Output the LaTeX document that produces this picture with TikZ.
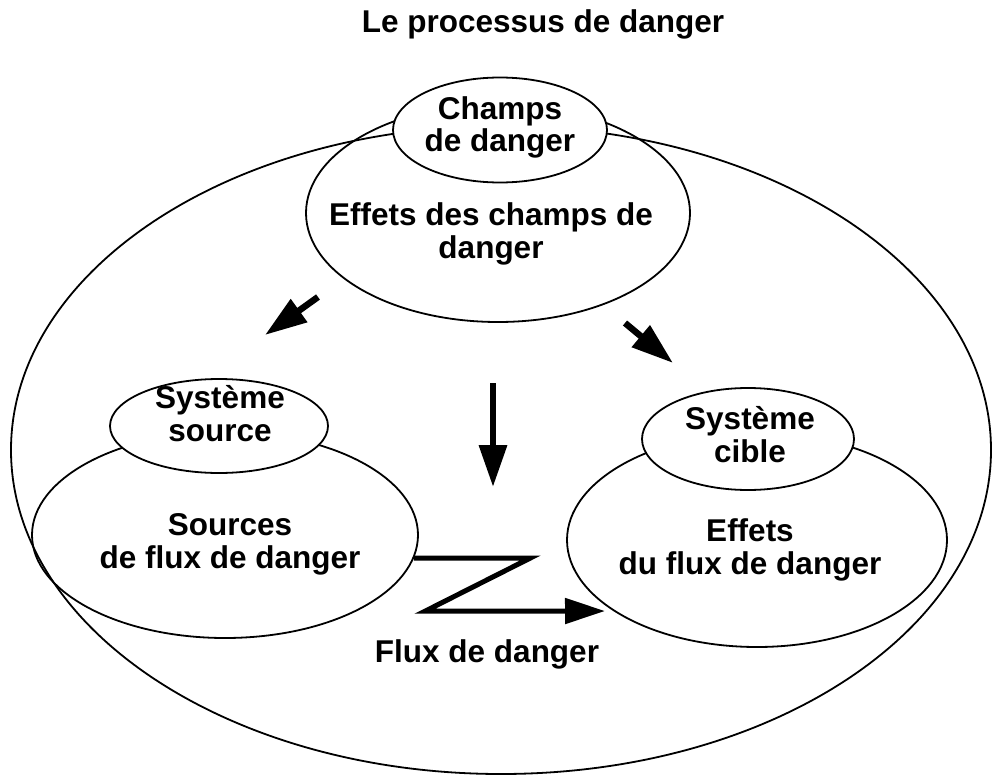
\documentclass[tikz,border=0pt]{standalone}
\usepackage{fontspec}
\setmainfont{Liberation Sans}
\usetikzlibrary{shapes.geometric,arrows.meta}
\begin{document}
\begin{tikzpicture}[x=1pt,y=-1pt,
  ring/.style={draw, ellipse, line width=1.8pt, inner sep=0pt},
  topring/.style={ring, fill=white},
  lbl/.style={font=\bfseries\fontsize{31.5}{32.5}\selectfont, align=center, inner sep=0pt},
  bigarrow/.style={line width=6.5pt, -{Triangle[length=42pt,width=27pt]}},
  zarrow/.style={line width=5pt, line join=miter, -{Triangle[length=40pt,width=25pt]}}
]
\useasboundingbox (0,0) rectangle (993,781);

% enclosing process and the three zones
\node[ring, minimum width=980pt, minimum height=648pt] (outer) at (501,450) {};
\node[ring, minimum width=384pt, minimum height=218pt] (fxeff) at (498,213) {};
\node[ring, minimum width=386pt, minimum height=206pt] (src) at (225,535) {};
\node[ring, minimum width=380pt, minimum height=214pt] (tgt) at (757,540) {};

% small ellipses sitting on top of each zone
\node[topring, minimum width=214pt, minimum height=105pt] (field) at (500,130) {};
\node[topring, minimum width=218pt, minimum height=94pt] (srcsys) at (219,426) {};
\node[topring, minimum width=212pt, minimum height=102pt] (tgtsys) at (748,439) {};

% texts (base = baseline of the last line)
\node[lbl, anchor=base] (title) at (543,33) {Le processus de danger};
\node[lbl, anchor=base] (fieldtxt) at (500,152) {Champs\\de danger};
\node[lbl, anchor=base] (fxefftxt) at (491,258) {Effets des champs de\\danger};
\node[lbl, anchor=base] (srcsystxt) at (220,441) {Système\\source};
\node[lbl, anchor=base] (srctxt) at (230,568) {Sources\\de flux de danger};
\node[lbl, anchor=base] (tgtsystxt) at (750,462) {Système\\cible};
\node[lbl, anchor=base] (tgttxt) at (750,574) {Effets\\du flux de danger};
\node[lbl, anchor=base] (flowtxt) at (487,662) {Flux de danger};

% arrows
\coordinate (a1s) at (318,297);
\coordinate (a1e) at (265,335);
\coordinate (a2s) at (625,323);
\coordinate (a2e) at (673,363);
\coordinate (a3s) at (493,383);
\coordinate (a3e) at (493,487);
\coordinate (zend) at (605,611);
\draw[bigarrow] (a1s) -- (a1e);
\draw[bigarrow] (a2s) -- (a2e);
\draw[bigarrow] (a3s) -- (a3e);
\draw[zarrow] (src.-7) -- ++(116,0) -- ++(-105,53) -- (zend);
\end{tikzpicture}
\end{document}
